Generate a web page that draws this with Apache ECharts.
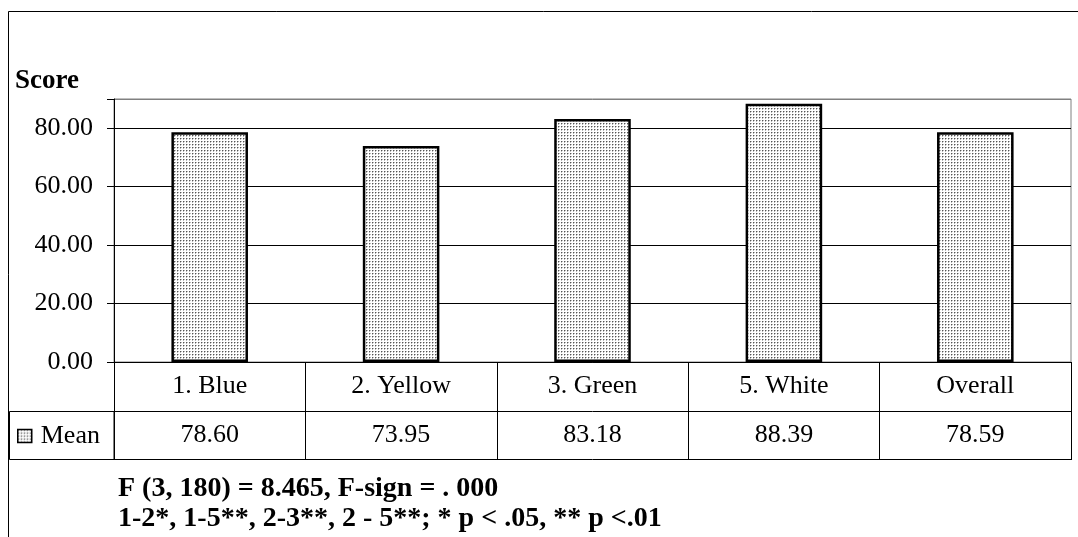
<!DOCTYPE html>
<html>
<head>
<meta charset="utf-8">
<script src="https://cdn.jsdelivr.net/npm/echarts@6/dist/echarts.min.js"></script>
<style>
html,body{margin:0;padding:0;background:#fff;}
#chart{width:1078px;height:537px;}
</style>
</head>
<body>
<div id="chart"></div>
<script>
const categories = ['1. Blue', '2. Yellow', '3. Green', '5. White', 'Overall'];
const means = [78.60, 73.95, 83.18, 88.39, 78.59];
const yTicks = [0, 20, 40, 60, 80];
const seriesName = 'Mean';
const axisTitle = 'Score';
const statLines = [
  'F (3, 180) = 8.465, F-sign = . 000',
  '1-2*, 1-5**, 2-3**, 2 - 5**; * p < .05, ** p <.01'
];

const FONT = 'Liberation Serif';
const FS = 26;
const W = 1078, H = 537;
const G = {left: 114, right: 7, top: 99, bottom: 175};
const rowH = 49;
const axisY = H - G.bottom;

// stipple pattern
const pc = document.createElement('canvas');
pc.width = 3; pc.height = 3;
const pctx = pc.getContext('2d');
pctx.fillStyle = '#ffffff'; pctx.fillRect(0, 0, 3, 3);
pctx.fillStyle = '#555555'; pctx.fillRect(0, 0, 1, 1);
pctx.fillStyle = '#b8b8b8'; pctx.fillRect(1, 0, 1, 1); pctx.fillRect(0, 1, 1, 1);
const pattern = {image: pc, repeat: 'repeat'};

const chart = echarts.init(document.getElementById('chart'), null, {renderer: 'canvas'});
chart.setOption({
  animation: false,
  backgroundColor: '#fff',
  title: {
    text: axisTitle, left: 15, top: 68, padding: 0,
    textStyle: {fontFamily: FONT, fontSize: 27, fontWeight: 'bold', color: '#000'}
  },
  legend: {
    data: [seriesName], left: 17, top: axisY + rowH + 12, padding: 0,
    icon: 'rect', itemWidth: 14, itemHeight: 13,
    itemStyle: {borderColor: '#000', borderWidth: 1.5},
    textStyle: {fontFamily: FONT, fontSize: FS, color: '#000', padding: [0, 0, 0, 4]}
  },
  grid: {
    left: G.left, right: G.right, top: G.top, bottom: G.bottom,
    show: true, borderColor: '#808080', borderWidth: 1, backgroundColor: 'transparent'
  },
  xAxis: [
    {
      type: 'category', data: categories, position: 'bottom',
      axisLine: {show: true, lineStyle: {color: '#000', width: 1}},
      axisTick: {show: true, length: rowH * 2, interval: 0, lineStyle: {color: '#000', width: 1}},
      axisLabel: {interval: 0, margin: 11, fontFamily: FONT, fontSize: FS, color: '#000'},
      splitLine: {show: false}
    },
    {
      type: 'category', data: categories, position: 'bottom', offset: rowH,
      axisLine: {show: true, lineStyle: {color: '#000', width: 1}},
      axisTick: {show: false},
      axisLabel: {interval: 0, margin: 11, fontFamily: FONT, fontSize: FS, color: '#000',
        formatter: (v, i) => means[i].toFixed(2)},
      splitLine: {show: false}
    },
    {
      type: 'category', data: categories, position: 'bottom', offset: rowH * 2 - 1,
      axisLine: {show: true, lineStyle: {color: '#000', width: 1}},
      axisTick: {show: false}, axisLabel: {show: false}, splitLine: {show: false}
    }
  ],
  yAxis: {
    type: 'value', min: yTicks[0], max: 90, interval: yTicks[1] - yTicks[0],
    axisLine: {show: true, lineStyle: {color: '#000', width: 1}},
    axisTick: {show: true, length: 7, lineStyle: {color: '#000', width: 1}},
    axisLabel: {margin: 21, fontFamily: FONT, fontSize: FS, color: '#000',
      formatter: v => (yTicks.indexOf(v) >= 0 ? v.toFixed(2) : '')},
    splitLine: {show: true, lineStyle: {color: ['#000', '#000', '#000', '#000', '#000', '#808080'], width: 1}}
  },
  series: [{
    name: seriesName, type: 'bar', xAxisIndex: 0, data: means, barWidth: '40%',
    itemStyle: {color: pattern, borderColor: '#000', borderWidth: 2.5}
  }],
  graphic: [
    {type: 'rect', silent: true, z: 10,
      shape: {x: 8.5, y: 11.5, width: W + 20, height: H + 20},
      style: {fill: 'none', stroke: '#000', lineWidth: 1}},
    {type: 'rect', silent: true, z: 10,
      shape: {x: 9.5, y: axisY + rowH + 0.5, width: G.left - 9.5, height: rowH - 1},
      style: {fill: 'none', stroke: '#000', lineWidth: 1}},
    {type: 'text', left: 118, top: 475, silent: true,
      style: {text: statLines[0], fontFamily: FONT, fontSize: 28, fontWeight: 'bold', fill: '#000'}},
    {type: 'text', left: 118, top: 505, silent: true,
      style: {text: statLines[1], fontFamily: FONT, fontSize: 28, fontWeight: 'bold', fill: '#000'}}
  ]
});
</script>
</body>
</html>
